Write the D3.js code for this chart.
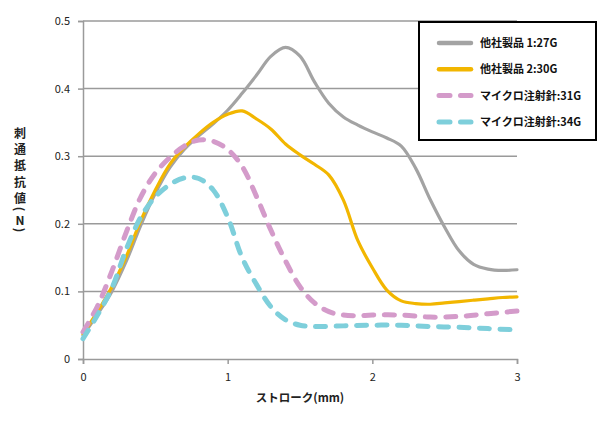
<!DOCTYPE html>
<html><head><meta charset="utf-8">
<script src="https://cdn.jsdelivr.net/npm/d3@7"></script>
<style>body{margin:0;background:#fff}svg{display:block}text{font-family:"Noto Sans CJK JP","Noto Sans",sans-serif}</style>
</head><body>
<svg id="c" width="600" height="421"></svg>
<script>
const seriesNames = ["他社製品 1:27G","他社製品 2:30G","マイクロ注射針:31G","マイクロ注射針:34G"];
const seriesColors = ["#a3a3a3","#f2b600","#d49bca","#7ecfdb"];
const seriesDashed = [false,false,true,true];
const xGray = [0,0.1,0.2,0.3,0.4,0.5,0.6,0.7,0.8,0.9,1.0,1.1,1.2,1.3,1.4,1.5,1.6,1.7,1.8,1.9,2.0,2.1,2.2,2.3,2.4,2.5,2.6,2.7,2.8,2.9,3.0];
const yGray = [0.035,0.066,0.10,0.145,0.198,0.245,0.283,0.31,0.33,0.348,0.368,0.393,0.42,0.448,0.461,0.448,0.41,0.378,0.358,0.346,0.336,0.327,0.315,0.282,0.236,0.195,0.16,0.14,0.133,0.131,0.132];
const xYellow = [0,0.1,0.2,0.3,0.4,0.5,0.6,0.7,0.8,0.9,1.0,1.1,1.2,1.3,1.4,1.5,1.6,1.7,1.8,1.9,2.0,2.1,2.2,2.3,2.4,2.5,2.6,2.7,2.8,2.9,3.0];
const yYellow = [0.037,0.07,0.107,0.152,0.205,0.25,0.288,0.313,0.333,0.35,0.362,0.367,0.355,0.34,0.318,0.302,0.288,0.272,0.235,0.175,0.135,0.102,0.086,0.082,0.081,0.083,0.085,0.087,0.089,0.091,0.092];
const xPink = [0,0.1,0.2,0.3,0.4,0.5,0.6,0.7,0.8,0.9,1.0,1.1,1.2,1.3,1.4,1.5,1.6,1.7,1.8,1.9,2.0,2.2,2.4,2.6,2.8,3.0];
const yPink = [0.04,0.078,0.13,0.188,0.24,0.275,0.298,0.315,0.324,0.322,0.31,0.285,0.24,0.19,0.145,0.107,0.083,0.07,0.065,0.064,0.065,0.065,0.062,0.063,0.067,0.071];
const xCyan = [0,0.1,0.2,0.3,0.4,0.5,0.6,0.7,0.8,0.9,1.0,1.1,1.2,1.3,1.4,1.5,1.6,1.8,2.0,2.2,2.4,2.6,2.8,3.0];
const yCyan = [0.03,0.065,0.105,0.163,0.21,0.24,0.258,0.268,0.267,0.25,0.21,0.15,0.11,0.077,0.058,0.05,0.048,0.049,0.05,0.05,0.048,0.047,0.045,0.043];
const xTicks = [0,1,2,3];
const yTicks = [0,0.1,0.2,0.3,0.4,0.5];
const yTitleChars = ["刺","通","抵","抗","値","(","N",")"];
const xTitle = "ストローク(mm)";

const svg = d3.select("#c");
const x = d3.scaleLinear().domain([0,3]).range([83,517]);
const y = d3.scaleLinear().domain([0,0.5]).range([359,21]);
const axisColor = "#9a9a9a";

// grid
svg.append("g").selectAll("line").data(yTicks.filter(d=>d>0)).join("line")
  .attr("x1",83).attr("x2",517).attr("y1",d=>y(d)).attr("y2",d=>y(d))
  .attr("stroke",axisColor).attr("stroke-width",1.5);

// y axis
const ya = svg.append("g").attr("transform","translate(83,0)")
  .call(d3.axisLeft(y).tickValues(yTicks).tickSize(5).tickPadding(8).tickFormat(d=>d===0?"0":d3.format(".1f")(d)));
ya.select(".domain").attr("stroke",axisColor).attr("stroke-width",1.5);
ya.selectAll(".tick line").attr("stroke",axisColor).attr("stroke-width",1.5);
ya.selectAll("text").attr("font-size",11).attr("fill","#222").attr("font-family","'Noto Sans CJK JP',sans-serif");

// x axis
const xa = svg.append("g").attr("transform","translate(0,359)")
  .call(d3.axisBottom(x).tickValues(xTicks).tickSize(5).tickPadding(9).tickFormat(d3.format("d")));
xa.select(".domain").attr("stroke",axisColor).attr("stroke-width",1.5);
xa.selectAll(".tick line").attr("stroke",axisColor).attr("stroke-width",1.5);
xa.selectAll("text").attr("font-size",11).attr("fill","#222").attr("font-family","'Noto Sans CJK JP',sans-serif");

// lines
const data = [
  d3.zip(xGray,yGray), d3.zip(xYellow,yYellow), d3.zip(xPink,yPink), d3.zip(xCyan,yCyan)
];
const line = d3.line().x(d=>x(d[0])).y(d=>y(d[1])).curve(d3.curveCatmullRom.alpha(0.5));
data.forEach((pts,i)=>{
  svg.append("path").attr("d",line(pts)).attr("fill","none")
    .attr("stroke",seriesColors[i])
    .attr("stroke-width",seriesDashed[i]?5:3.2)
    .attr("stroke-linecap","round").attr("stroke-linejoin","round")
    .attr("stroke-dasharray",seriesDashed[i]?"10,10.5":null);
});

// legend
const lg = svg.append("g");
lg.append("rect").attr("x",419).attr("y",22).attr("width",177).attr("height",118)
  .attr("fill","#fff").attr("stroke","#000").attr("stroke-width",2);
seriesNames.forEach((n,i)=>{
  const yy = 43 + i*26.3;
  lg.append("line").attr("x1",439).attr("x2",471).attr("y1",yy).attr("y2",yy)
    .attr("stroke",seriesColors[i]).attr("stroke-width",seriesDashed[i]?5:4.5)
    .attr("stroke-linecap","round")
    .attr("stroke-dasharray",seriesDashed[i]?"11,10.5":null);
  lg.append("text").attr("x",480).attr("y",yy).attr("dy","0.36em")
    .attr("font-size",11).attr("font-weight",700).attr("fill","#111").text(n);
});

// y title (stacked vertical)
const yTitlePos = [132,148,164,181,197,209,219,230];
yTitleChars.forEach((c,i)=>{
  const t = svg.append("text").attr("text-anchor","middle").attr("dominant-baseline","central")
    .attr("font-size",12).attr("font-weight",700).attr("fill","#222").text(c);
  if (c==="(" || c===")") t.attr("transform",`translate(20,${yTitlePos[i]}) rotate(90)`);
  else t.attr("x",20).attr("y",yTitlePos[i]);
});
// x title
svg.append("text").attr("x",300).attr("y",402).attr("text-anchor","middle")
  .attr("font-size",11.5).attr("font-weight",700).attr("fill","#222").text(xTitle);
</script>
</body></html>
